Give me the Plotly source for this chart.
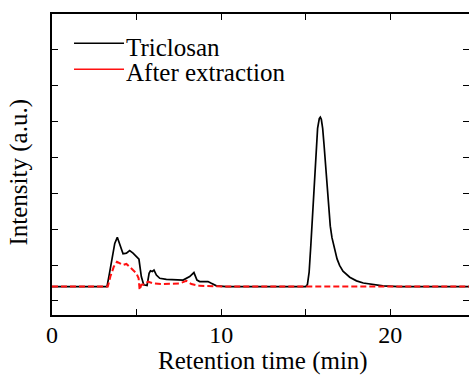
import plotly.graph_objects as go

# Retention time (min) and intensity (a.u.)
triclosan_t = [0, 3.25, 3.37, 3.51, 3.71, 3.86, 4.04, 4.2, 4.4, 4.59, 4.79, 4.99, 5.14, 5.28, 5.42, 5.62,
               5.74, 5.82, 5.93, 6.03, 6.17, 6.37, 6.76, 7.75, 8.14, 8.39, 8.57, 8.73, 9.22, 9.42, 9.72,
               10.3, 15.0, 15.1, 15.2, 15.3, 15.4, 15.5, 15.6, 15.7, 15.8, 15.86, 15.92, 16.0, 16.08,
               16.16, 16.25, 16.35, 16.45, 16.55, 16.7, 16.85, 17.0, 17.2, 17.6, 18.0, 18.4, 18.8, 19.56,
               20.5, 25]
triclosan_i = [1.40, 1.40, 1.70, 2.09, 2.60, 2.77, 2.51, 2.31, 2.33, 2.40, 2.33, 2.22, 2.16, 1.68, 1.45, 1.43,
               1.77, 1.84, 1.82, 1.86, 1.72, 1.63, 1.60, 1.58, 1.68, 1.79, 1.58, 1.54, 1.54, 1.49, 1.42,
               1.40, 1.40, 1.46, 1.80, 2.55, 3.45, 4.40, 5.25, 5.80, 6.07, 6.11, 6.05, 5.80, 5.35,
               4.80, 4.15, 3.55, 3.08, 2.76, 2.42, 2.17, 1.99, 1.83, 1.66, 1.56, 1.50, 1.47, 1.42,
               1.40, 1.40]

extract_t = [0, 3.3, 3.45, 3.65, 3.84, 4.04, 4.2, 4.4, 4.59, 4.79, 4.99, 5.12, 5.18, 5.28, 5.48, 5.67,
             5.97, 6.56, 7.55, 7.94, 8.24, 8.73, 9.2, 10.2, 25]
extract_i = [1.40, 1.40, 1.68, 1.95, 2.09, 2.03, 2.00, 2.03, 1.95, 1.86, 1.77, 1.63, 1.31, 1.45, 1.46, 1.54,
             1.49, 1.47, 1.49, 1.56, 1.47, 1.42, 1.41, 1.40, 1.40]

series_names = ["Triclosan", "After extraction"]
x_tick_vals = [0, 5, 10, 15, 20, 25]
x_tick_text = ["0", "", "10", "", "20", ""]
y_tick_vals = [1, 2, 3, 4, 5, 6, 7, 8]
x_title = "Retention time (min)"
y_title = "Intensity (a.u.)"

FONT = "Liberation Serif, Times New Roman, serif"

fig = go.Figure()
fig.add_trace(go.Scatter(x=triclosan_t, y=triclosan_i, mode="lines", name=series_names[0],
                         line=dict(color="black", width=1.7), showlegend=False))
fig.add_trace(go.Scatter(x=extract_t, y=extract_i, mode="lines", name=series_names[1],
                         line=dict(color="#ff1010", width=2, dash="6px,3px"), showlegend=False))

# manual legend
legend_rows = [(0.9027, 0.8887, "black", "solid", 1.6), (0.8163, 0.805, "#ff1010", "solid", 1.6)]
for (ly, ty, col, dash, w), name in zip(legend_rows, series_names):
    fig.add_shape(type="line", xref="paper", yref="paper", x0=0.0528, x1=0.1727, y0=ly, y1=ly,
                  line=dict(color=col, width=w, dash=dash))
    fig.add_annotation(xref="paper", yref="paper", x=0.172, y=ty, text=name, showarrow=False,
                       xanchor="left", yanchor="middle", font=dict(family=FONT, size=25, color="black"))

# axis titles
fig.add_annotation(xref="paper", yref="paper", x=0.507, y=-0.1528, text=x_title, showarrow=False,
                   xanchor="center", yanchor="middle", font=dict(family=FONT, size=25, color="black"))
fig.add_annotation(xref="paper", yref="paper", x=-0.0780, y=0.475, text=y_title, showarrow=False,
                   textangle=-90, xanchor="center", yanchor="middle",
                   font=dict(family=FONT, size=25, color="black"))

axis_common = dict(showline=True, linecolor="black", linewidth=1.5, mirror="ticks", ticks="inside",
                   tickcolor="black", tickwidth=1.3, ticklen=6, showgrid=False, zeroline=False,
                   automargin=False)

fig.update_layout(
    width=469, height=376,
    margin=dict(l=52, r=0, t=14, b=61),
    paper_bgcolor="white", plot_bgcolor="white",
    font=dict(family=FONT, size=24, color="black"),
    xaxis=dict(range=[0, 24.65], tickvals=x_tick_vals, ticktext=x_tick_text,
               tickfont=dict(size=24), ticklabelstandoff=-3, **axis_common),
    yaxis=dict(range=[0.61, 8.98], tickvals=y_tick_vals, showticklabels=False, **axis_common),
)

fig.write_html("out.html", config={"displayModeBar": False},
               post_script="document.body.style.margin='0';document.body.style.overflow='hidden';")
